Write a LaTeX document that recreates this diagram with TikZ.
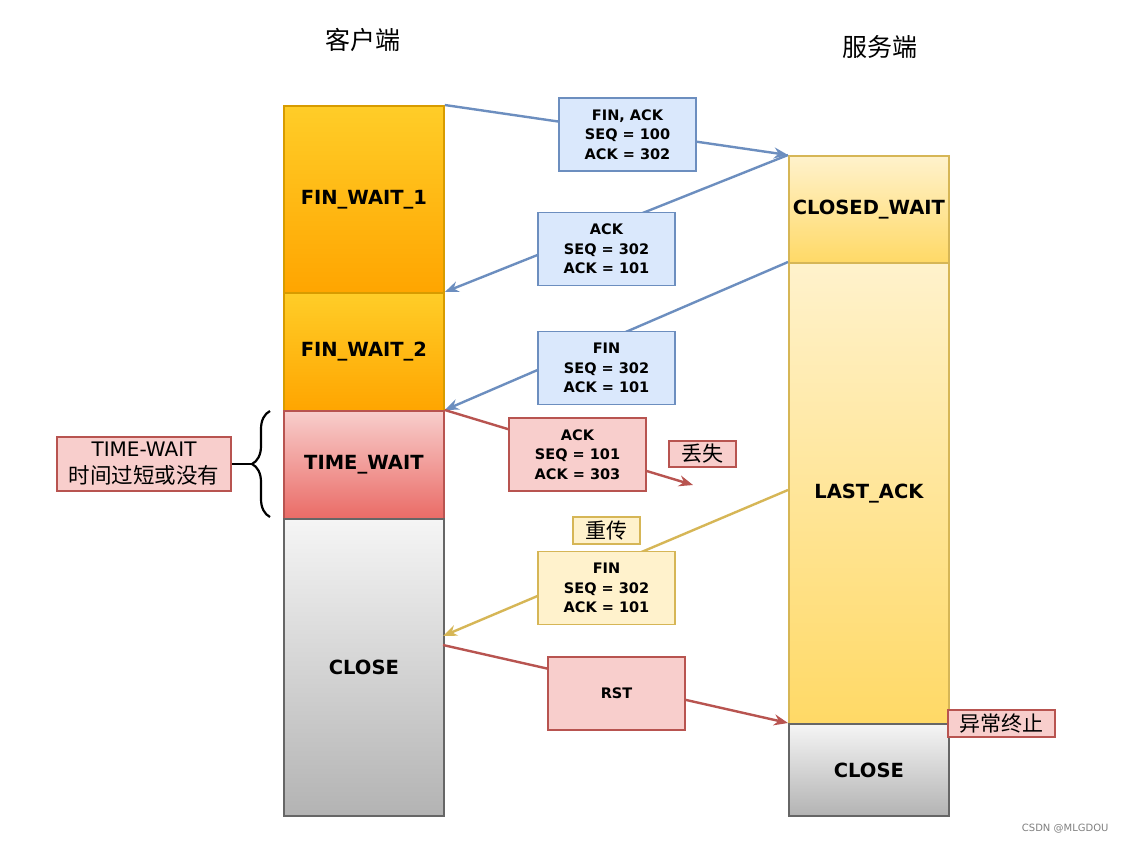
\documentclass[tikz,border=0pt]{standalone}
\usepackage{fontspec}
\setmainfont{DejaVu Sans}
\newfontfamily\cjk{Noto Sans CJK SC}
\usetikzlibrary{arrows.meta,decorations.pathreplacing}
\definecolor{orgdraw}{HTML}{D79B00}
\definecolor{orgtop}{HTML}{FFCD28}
\definecolor{orgbot}{HTML}{FFA500}
\definecolor{reddraw}{HTML}{B85450}
\definecolor{redtop}{HTML}{F8CECC}
\definecolor{redbot}{HTML}{EA6B66}
\definecolor{redfill}{HTML}{F8CECC}
\definecolor{graydraw}{HTML}{666666}
\definecolor{graytop}{HTML}{F5F5F5}
\definecolor{graybot}{HTML}{B3B3B3}
\definecolor{yeldraw}{HTML}{D6B656}
\definecolor{yeltop}{HTML}{FFF2CC}
\definecolor{yelbot}{HTML}{FFD966}
\definecolor{yelfill}{HTML}{FFF2CC}
\definecolor{bluedraw}{HTML}{6C8EBF}
\definecolor{bluefill}{HTML}{DAE8FC}
\tikzset{
  state/.style={draw, line width=1.8pt, minimum width=160pt, anchor=north west, inner sep=0pt,
    font=\fontsize{19.5}{22}\selectfont\bfseries},
  orgstate/.style={state, draw=orgdraw, top color=orgtop, bottom color=orgbot},
  redstate/.style={state, draw=reddraw, top color=redtop, bottom color=redbot},
  graystate/.style={state, draw=graydraw, top color=graytop, bottom color=graybot},
  yelstate/.style={state, draw=yeldraw, top color=yeltop, bottom color=yelbot},
  msg/.style={draw, line width=1.8pt, minimum width=137pt, minimum height=73pt, inner sep=0pt,
    align=center, font=\fontsize{14.5}{19.5}\selectfont\bfseries},
  bluemsg/.style={msg, draw=bluedraw, fill=bluefill},
  redmsg/.style={msg, draw=reddraw, fill=redfill},
  yelmsg/.style={msg, draw=yeldraw, fill=yelfill},
  tag/.style={draw, line width=1.3pt, inner sep=0pt, font=\cjk\fontsize{21}{24}\selectfont},
  conn/.style={line width=2.4pt},
  arr/.style={conn, -{Stealth[length=14pt,width=11pt]}},
}
\begin{document}
\begin{tikzpicture}[x=1pt,y=-1pt]
\useasboundingbox[fill=white] (0,0) rectangle (1127,844);
% titles
\node[font=\cjk\fontsize{25}{28}\selectfont] (tc) at (363,40) {客户端};
\node[font=\cjk\fontsize{25}{28}\selectfont] (ts) at (880,47) {服务端};
% client states
\node[orgstate, minimum height=187pt] (fw1) at (283,105) {FIN\_WAIT\_1};
\node[orgstate, minimum height=118pt] (fw2) at (283,292) {FIN\_WAIT\_2};
\node[redstate, minimum height=108pt] (tw) at (283,410) {TIME\_WAIT};
\node[graystate, minimum height=297pt] (cl) at (283,518) {CLOSE};
% server states
\node[yelstate, minimum height=107pt] (cw) at (788,155) {CLOSED\_WAIT};
\node[yelstate, minimum height=461pt] (la) at (788,262) {LAST\_ACK};
\node[graystate, minimum height=92pt] (scl) at (788,723) {CLOSE};
% connectors
\coordinate (lost) at (693,485);
\draw[conn, draw=bluedraw, arr] (fw1.north east) -- (cw.north west);
\draw[conn, draw=bluedraw, arr] (cw.north west) -- (fw2.north east);
\draw[conn, draw=bluedraw, arr] (la.north west) -- (tw.north east);
\draw[conn, draw=reddraw, arr] (tw.north east) -- (lost);
\coordinate (retx) at (788,490);
\coordinate (clin) at (443,636);
\coordinate (clout) at (443,645);
\draw[conn, draw=yeldraw, arr] (retx) -- (clin);
\draw[conn, draw=reddraw, arr] (clout) -- (scl.north west);
% messages
\node[bluemsg] (m1) at (627.5,134.5) {FIN, ACK\\SEQ = 100\\ACK = 302};
\node[bluemsg] (m2) at (606.5,249) {ACK\\SEQ = 302\\ACK = 101};
\node[bluemsg] (m3) at (606.5,368) {FIN\\SEQ = 302\\ACK = 101};
\node[redmsg] (m4) at (577.5,454.5) {ACK\\SEQ = 101\\ACK = 303};
\node[yelmsg] (m5) at (606.5,588) {FIN\\SEQ = 302\\ACK = 101};
\node[redmsg] (m6) at (616.5,693.5) {RST};
% tags
\node[tag, draw=reddraw, fill=redfill, minimum width=67pt, minimum height=26pt] (lostt) at (702.5,454) {丢失};
\node[tag, draw=yeldraw, fill=yelfill, minimum width=67pt, minimum height=27pt] (rt) at (606.5,530.5) {重传};
\node[tag, draw=reddraw, fill=redfill, minimum width=107pt, minimum height=27pt] (abn) at (1001.5,723.5) {异常终止};
\node[tag, draw=reddraw, fill=redfill, minimum width=174pt, minimum height=54pt, align=center,
  font=\fontsize{20}{27}\selectfont] (twl) at (144,464) {TIME-WAIT\\{\cjk\fontsize{21.5}{27}\selectfont 时间过短或没有}};
% brace
\coordinate (bt) at (270,411);
\coordinate (bb) at (270,517);
\coordinate (btip) at (252,464);
\draw[line width=2.2pt, decorate, decoration={brace, amplitude=18pt}] (bb) -- (bt);
\draw[line width=2.2pt] (btip) -- (twl.east);
% watermark
\node[font=\fontsize{10}{12}\selectfont, text=gray, anchor=east] (wm) at (1112,829) {CSDN @MLGDOU};
\end{tikzpicture}
\end{document}
